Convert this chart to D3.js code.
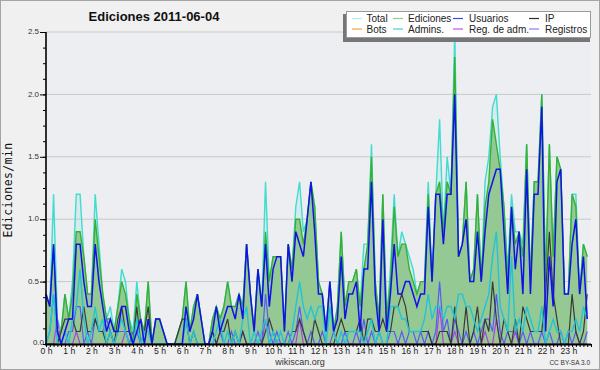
<!DOCTYPE html>
<html>
<head>
<meta charset="utf-8">
<script src="https://cdn.jsdelivr.net/npm/d3@7"></script>
<style>
body { margin: 0; background: #f0f0f0; }
svg { display: block; }
</style>
</head>
<body>
<svg id="drawing_region"></svg>
<script>
// one value every 10 minutes, 144 slots (edits per minute)
const hourLabels = ['0 h','1 h','2 h','3 h','4 h','5 h','6 h','7 h','8 h','9 h','10 h','11 h',
    '12 h','13 h','14 h','15 h','16 h','17 h','18 h','19 h','20 h','21 h','22 h','23 h'];
const yTicks = [0, 0.5, 1.0, 1.5, 2.0, 2.5];

const total = [
    0.4,0.3,1.2,0.2,0.1,0.4,0.2,0.5,1.2,1.2,0.7,0.4, 0.4,1.2,0.8,0.4,0.2,0.3,0.1,0.3,0.6,0.5,0.2,0.1,
    0.5,0.2,0.1,0.5,0.0,0.2,0.2,0.1,0.0,0.0,0.0,0.1, 0.2,0.5,0.1,0.3,0.4,0.2,0.0,0.0,0.2,0.3,0.2,0.3,
    0.5,0.3,0.3,0.4,0.3,0.8,0.4,0.1,0.6,0.3,1.3,0.5, 0.7,0.7,0.7,0.1,0.8,0.6,1.1,1.3,0.9,1.0,1.3,1.1,
    0.5,0.4,0.1,0.5,0.1,0.3,0.9,0.3,0.5,0.5,0.6,0.3, 0.8,0.8,1.6,0.5,0.2,1.2,0.2,0.6,1.2,0.7,0.9,0.8,
    0.7,0.6,0.4,0.5,0.5,1.3,0.5,1.2,1.8,0.9,1.5,1.2, 2.5,0.7,0.8,1.3,0.5,0.6,1.2,0.5,1.3,1.5,1.9,2.0,
    1.5,1.1,0.6,1.2,0.9,0.9,0.8,1.6,0.5,1.3,1.3,2.0, 0.5,1.6,0.7,1.5,1.4,0.4,0.4,1.2,1.2,0.4,0.8,0.7];
const ediciones = [
    0.4,0.3,0.8,0.1,0.1,0.4,0.2,0.4,0.9,0.9,0.7,0.4, 0.4,1.0,0.7,0.4,0.2,0.2,0.1,0.3,0.5,0.4,0.2,0.0,
    0.4,0.2,0.1,0.5,0.0,0.2,0.2,0.1,0.0,0.0,0.0,0.1, 0.2,0.5,0.1,0.3,0.4,0.2,0.0,0.0,0.2,0.3,0.2,0.3,
    0.5,0.3,0.3,0.4,0.3,0.8,0.4,0.1,0.6,0.3,0.9,0.5, 0.7,0.7,0.7,0.1,0.8,0.6,1.0,1.0,0.8,1.0,1.3,1.1,
    0.5,0.4,0.1,0.5,0.1,0.3,0.9,0.3,0.5,0.5,0.6,0.3, 0.6,0.8,1.5,0.5,0.2,1.2,0.2,0.5,1.1,0.7,0.8,0.8,
    0.6,0.5,0.4,0.5,0.5,1.2,0.5,1.2,1.3,0.9,1.3,1.2, 2.3,0.7,0.8,1.3,0.5,0.6,1.2,0.5,1.1,1.3,1.8,1.6,
    1.4,1.1,0.5,1.1,0.8,0.9,0.7,1.6,0.5,1.3,1.3,2.0, 0.5,1.6,0.7,1.5,1.4,0.4,0.4,1.2,1.1,0.4,0.8,0.7];
const usuarios = [
    0.4,0.3,0.8,0.1,0.0,0.1,0.2,0.2,0.8,0.8,0.5,0.3, 0.3,0.8,0.5,0.3,0.1,0.2,0.1,0.1,0.3,0.3,0.1,0.0,
    0.1,0.2,0.0,0.2,0.0,0.2,0.2,0.1,0.0,0.0,0.0,0.0, 0.0,0.3,0.1,0.2,0.4,0.2,0.0,0.0,0.1,0.3,0.1,0.2,
    0.3,0.3,0.2,0.4,0.2,0.8,0.4,0.1,0.6,0.3,0.8,0.3, 0.6,0.7,0.7,0.1,0.8,0.5,0.9,0.8,0.7,1.0,1.3,0.9,
    0.4,0.4,0.1,0.5,0.1,0.2,0.7,0.2,0.4,0.4,0.5,0.1, 0.6,0.6,1.3,0.4,0.1,1.0,0.1,0.4,0.8,0.4,0.4,0.5,
    0.5,0.4,0.3,0.4,0.4,1.1,0.5,1.2,1.2,0.8,1.2,1.2, 2.0,0.7,0.8,1.0,0.5,0.5,0.9,0.5,0.9,1.2,1.3,1.4,
    1.4,0.9,0.4,1.1,0.6,0.9,0.4,1.4,0.4,1.2,1.2,1.9, 0.1,0.7,0.3,1.3,1.4,0.4,0.4,0.8,1.0,0.4,0.7,0.2];
const ip = [
    0.0,0.0,0.0,0.0,0.1,0.2,0.2,0.2,0.1,0.1,0.3,0.1, 0.1,0.2,0.1,0.1,0.0,0.1,0.0,0.2,0.3,0.1,0.1,0.0,
    0.3,0.0,0.1,0.3,0.0,0.0,0.0,0.0,0.0,0.0,0.0,0.1, 0.2,0.2,0.0,0.1,0.0,0.0,0.0,0.0,0.1,0.0,0.1,0.1,
    0.2,0.0,0.1,0.0,0.1,0.0,0.0,0.0,0.0,0.0,0.1,0.2, 0.1,0.0,0.0,0.0,0.0,0.1,0.1,0.2,0.1,0.0,0.0,0.2,
    0.1,0.0,0.0,0.0,0.0,0.1,0.2,0.1,0.1,0.1,0.1,0.2, 0.0,0.2,0.2,0.1,0.1,0.2,0.1,0.1,0.3,0.3,0.4,0.3,
    0.1,0.1,0.1,0.1,0.1,0.1,0.0,0.0,0.1,0.1,0.1,0.0, 0.3,0.0,0.0,0.3,0.0,0.1,0.3,0.0,0.2,0.1,0.5,0.2,
    0.0,0.2,0.1,0.0,0.2,0.0,0.3,0.2,0.1,0.1,0.1,0.1, 0.4,0.9,0.4,0.2,0.0,0.0,0.0,0.4,0.1,0.0,0.1,0.4];
const bots = [
    0,0,0,0,0,0,0,0,0,0,0,0, 0,0,0,0,0,0,0,0,0,0,0,0, 0,0,0,0,0,0,0,0,0,0,0,0, 0,0,0,0,0,0,0,0,0,0,0,0,
    0,0,0,0,0,0,0,0,0,0,0,0, 0,0,0,0,0,0,0,0,0,0,0,0, 0,0,0,0,0,0,0,0,0,0,0,0, 0,0,0,0,0,0,0,0,0,0,0,0,
    0,0,0,0,0,0,0,0,0,0,0,0, 0,0,0,0,0,0,0,0,0,0,0,0, 0,0,0,0,0,0,0,0,0,0,0,0, 0,0,0,0,0,0,0,0,0,0,0,0];
const admins = [
    0.0,0.1,0.4,0.0,0.0,0.1,0.0,0.2,0.3,0.6,0.2,0.0, 0.1,0.3,0.1,0.2,0.0,0.1,0.0,0.1,0.2,0.1,0.0,0.0,
    0.2,0.0,0.1,0.1,0.0,0.0,0.0,0.0,0.0,0.0,0.0,0.0, 0.0,0.2,0.0,0.1,0.0,0.0,0.0,0.0,0.0,0.1,0.2,0.0,
    0.1,0.0,0.1,0.0,0.2,0.3,0.0,0.1,0.0,0.1,0.2,0.0, 0.1,0.0,0.1,0.0,0.0,0.1,0.3,0.5,0.3,0.2,0.3,0.2,
    0.3,0.3,0.0,0.3,0.1,0.0,0.1,0.0,0.1,0.1,0.1,0.1, 0.0,0.1,0.2,0.0,0.1,0.0,0.0,0.3,0.3,0.3,0.2,0.2,
    0.1,0.1,0.1,0.1,0.2,0.4,0.2,0.3,0.3,0.2,0.3,0.3, 0.2,0.4,0.4,0.3,0.3,0.2,0.1,0.2,0.3,0.4,0.7,0.9,
    0.3,0.2,0.1,0.7,0.1,0.2,0.1,0.3,0.2,0.1,0.1,0.3, 0.0,0.1,0.2,0.1,0.1,0.0,0.1,0.1,0.2,0.1,0.3,0.2];
const regAdm = [
    0.0,0.0,0.0,0.2,0.0,0.0,0.0,0.0,0.1,0.0,0.0,0.0, 0.0,0.0,0.0,0.0,0.0,0.0,0.0,0.0,0.0,0.1,0.0,0.0,
    0.0,0.0,0.0,0.0,0.0,0.0,0.0,0.0,0.0,0.0,0.0,0.0, 0.0,0.0,0.0,0.0,0.0,0.0,0.0,0.0,0.0,0.0,0.0,0.0,
    0.0,0.0,0.0,0.0,0.0,0.0,0.0,0.0,0.0,0.0,0.2,0.0, 0.0,0.0,0.0,0.0,0.0,0.0,0.0,0.2,0.0,0.0,0.0,0.0,
    0.0,0.0,0.0,0.0,0.0,0.0,0.0,0.0,0.0,0.0,0.0,0.0, 0.0,0.0,0.0,0.0,0.0,0.0,0.0,0.0,0.0,0.0,0.0,0.0,
    0.0,0.0,0.0,0.0,0.0,0.0,0.0,0.0,0.3,0.0,0.0,0.0, 0.1,0.0,0.0,0.0,0.0,0.0,0.0,0.0,0.1,0.0,0.0,0.2,
    0.0,0.0,0.0,0.0,0.1,0.0,0.0,0.0,0.0,0.0,0.0,0.0, 0.0,0.0,0.0,0.0,0.0,0.0,0.0,0.0,0.0,0.0,0.0,0.0];
const registros = [
    0.0,0.1,0.4,0.1,0.0,0.0,0.1,0.1,0.3,0.3,0.0,0.1, 0.0,0.2,0.1,0.1,0.2,0.1,0.0,0.1,0.1,0.1,0.0,0.1,
    0.1,0.0,0.0,0.0,0.0,0.0,0.0,0.0,0.0,0.0,0.0,0.0, 0.0,0.0,0.0,0.0,0.0,0.0,0.0,0.0,0.1,0.0,0.1,0.0,
    0.0,0.1,0.0,0.0,0.1,0.0,0.0,0.0,0.1,0.0,0.4,0.1, 0.0,0.1,0.0,0.0,0.1,0.0,0.1,0.3,0.1,0.0,0.1,0.0,
    0.0,0.1,0.0,0.0,0.1,0.0,0.0,0.1,0.0,0.0,0.1,0.0, 0.2,0.0,0.1,0.0,0.1,0.0,0.0,0.1,0.1,0.0,0.1,0.0,
    0.1,0.1,0.0,0.1,0.0,0.1,0.0,0.1,0.5,0.1,0.2,0.0, 0.2,0.1,0.0,0.1,0.0,0.1,0.0,0.1,0.2,0.2,0.1,0.4,
    0.1,0.0,0.1,0.1,0.1,0.0,0.1,0.0,0.1,0.0,0.0,0.1, 0.0,0.1,0.0,0.0,0.1,0.0,0.1,0.0,0.1,0.0,0.0,0.1];

class EditsChart {

    constructor( config ) {
        this.config = config;
        this.init();
    }

    init() {
        let self = this;
        let c = self.config;

        self.svg = d3.select( c.parent )
            .attr('width', c.width)
            .attr('height', c.height)
            .style('font-family', '"Liberation Sans", Arial, sans-serif');

        self.svg.append('rect')
            .attr('x', 0.5).attr('y', 0.5)
            .attr('width', c.width - 1).attr('height', c.height - 1)
            .attr('fill', '#f0f0f0')
            .attr('stroke', '#a4a4a4');

        self.xscale = d3.scaleLinear()
            .domain([0, 144])
            .range([c.margin.left, c.width - c.margin.right]);

        self.yscale = d3.scaleLinear()
            .domain([0, 2.5])
            .range([c.height - c.margin.bottom, c.margin.top]);

        self.svg.append('rect')
            .attr('x', self.xscale(0)).attr('y', self.yscale(2.5))
            .attr('width', self.xscale(144) - self.xscale(0))
            .attr('height', self.yscale(0) - self.yscale(2.5))
            .attr('fill', '#eceef1');
    }

    render() {
        let self = this;
        let c = self.config;
        let x = self.xscale, y = self.yscale;
        let x0 = x(0), x1 = x(144), ybase = y(0);

        // grid
        self.svg.append('g')
            .selectAll('line')
            .data(yTicks.filter(d => d > 0))
            .join('line')
            .attr('x1', x0).attr('x2', x1)
            .attr('y1', d => y(d)).attr('y2', d => y(d))
            .attr('stroke', '#c9c9c9');

        const line = d3.line().x((d, i) => x(i)).y(d => y(d));
        const area = d3.area().x((d, i) => x(i)).y0(ybase).y1(d => y(d));

        const plot = self.svg.append('g');

        plot.append('path').attr('d', area(total))
            .attr('fill', 'rgba(110,222,212,0.16)');
        plot.append('path').attr('d', line(total))
            .attr('fill', 'none').attr('stroke', '#40dccf').attr('stroke-width', 1.4);
        plot.append('path').attr('d', area(ediciones))
            .attr('fill', '#94c994');
        plot.append('path').attr('d', line(ediciones))
            .attr('fill', 'none').attr('stroke', '#35b035').attr('stroke-width', 1.4);

        const lines = [
            { v: bots, color: '#ff9c2a', w: 1 },
            { v: regAdm, color: '#b43ce0', w: 1.2 },
            { v: registros, color: '#5a5af5', w: 1.2 },
            { v: ip, color: '#3a3a3a', w: 1.2 },
            { v: admins, color: '#22c4d6', w: 1.4 },
            { v: usuarios, color: '#1212e8', w: 1.5 },
        ];
        lines.forEach(s => {
            plot.append('path').attr('d', line(s.v))
                .attr('fill', 'none')
                .attr('stroke', s.color)
                .attr('stroke-width', s.w)
                .attr('stroke-linejoin', 'miter');
        });

        // y axis
        const yMinor = self.svg.append('g')
            .attr('transform', `translate(${x0}, 0)`)
            .call(d3.axisLeft(y).tickValues(d3.range(0, 2.501, 0.125)).tickSize(3).tickFormat(''));
        yMinor.select('.domain').remove();

        const yMajor = self.svg.append('g')
            .attr('transform', `translate(${x0}, 0)`)
            .call(d3.axisLeft(y).tickValues(yTicks).tickSize(6).tickFormat(d3.format('.1f')));
        yMajor.select('.domain').remove();
        yMajor.selectAll('.tick').filter(d => d === 0).select('line').remove();
        yMajor.selectAll('text')
            .attr('x', d => d === 0 ? -2 : -7)
            .attr('dy', null)
            .attr('y', d => d === 0 ? 0.6 : 1.6)
            .attr('font-size', '8px')
            .attr('font-family', '"Liberation Sans", Arial, sans-serif')
            .attr('fill', '#333');
        self.svg.append('line')
            .attr('x1', x0).attr('x2', x0)
            .attr('y1', y(2.5)).attr('y2', ybase)
            .attr('stroke', '#000').attr('stroke-width', 1.6);

        // x axis
        const xAxis = self.svg.append('g')
            .attr('transform', `translate(0, ${ybase})`)
            .call(d3.axisBottom(x)
                .tickValues(d3.range(0, 145))
                .tickSize(3)
                .tickFormat(d => d % 6 === 0 && d < 144 ? hourLabels[d / 6] : ''));
        xAxis.select('.domain').remove();
        xAxis.selectAll('text')
            .attr('y', 10.3)
            .attr('dy', null)
            .attr('font-size', '8.6px')
            .attr('font-family', '"Liberation Sans", Arial, sans-serif')
            .attr('fill', '#222');
        self.svg.append('line')
            .attr('x1', x0 - 1).attr('x2', x1)
            .attr('y1', ybase + 0.5).attr('y2', ybase + 0.5)
            .attr('stroke', '#000').attr('stroke-width', 2);

        // texts
        self.svg.append('text')
            .attr('x', 154).attr('y', 21)
            .attr('text-anchor', 'middle')
            .attr('font-size', '13px').attr('font-weight', 'bold')
            .attr('fill', '#111')
            .text(c.title);

        self.svg.append('text')
            .attr('transform', `translate(12, ${(y(2.5) + ybase) / 2 + 2}) rotate(-90)`)
            .attr('text-anchor', 'middle')
            .attr('font-family', '"DejaVu Sans Mono", monospace')
            .attr('font-size', '11.5px')
            .attr('letter-spacing', '0.4px')
            .attr('fill', '#111')
            .text(c.ylabel);

        self.svg.append('text')
            .attr('x', 300).attr('y', 365)
            .attr('text-anchor', 'middle')
            .attr('font-size', '9px').attr('fill', '#333')
            .text('wikiscan.org');

        self.svg.append('text')
            .attr('x', 590).attr('y', 365)
            .attr('text-anchor', 'end')
            .attr('font-size', '6.5px').attr('fill', '#333')
            .text('CC BY-SA 3.0');

        self.legend();
    }

    legend() {
        let self = this;
        const items = [
            { name: 'Total', color: '#b2ecec' },
            { name: 'Ediciones', color: '#88d088' },
            { name: 'Usuarios', color: '#4848e0' },
            { name: 'IP', color: '#303030' },
            { name: 'Bots', color: '#ffa040' },
            { name: 'Admins.', color: '#40d0e0' },
            { name: 'Reg. de adm.', color: '#d050e8' },
            { name: 'Registros', color: '#8080f0' },
        ];
        const colX = [352, 393, 453, 529];
        const textX = [366.5, 408, 469, 545];
        const rowY = [18.5, 29];
        const textY = [22, 32.5];

        const g = self.svg.append('g');
        g.append('rect')
            .attr('x', 343).attr('y', 14)
            .attr('width', 247).attr('height', 28)
            .attr('fill', '#767676');
        g.append('rect')
            .attr('x', 346.5).attr('y', 11.5)
            .attr('width', 244).attr('height', 26)
            .attr('fill', '#ffffff')
            .attr('stroke', '#9a9a9a');

        items.forEach((d, k) => {
            let col = k % 4, row = Math.floor(k / 4);
            g.append('line')
                .attr('x1', colX[col]).attr('x2', colX[col] + 10)
                .attr('y1', rowY[row]).attr('y2', rowY[row])
                .attr('stroke', d.color).attr('stroke-width', 1.2);
            g.append('text')
                .attr('x', textX[col]).attr('y', textY[row])
                .attr('font-size', '10px').attr('fill', '#222')
                .text(d.name);
        });
    }
}

let chart = new EditsChart({
    parent: '#drawing_region',
    width: 600,
    height: 370,
    margin: {top: 32, right: 9, bottom: 26, left: 46},
    title: 'Ediciones  2011-06-04',
    ylabel: 'Ediciones/min',
});
chart.render();
</script>
</body>
</html>
